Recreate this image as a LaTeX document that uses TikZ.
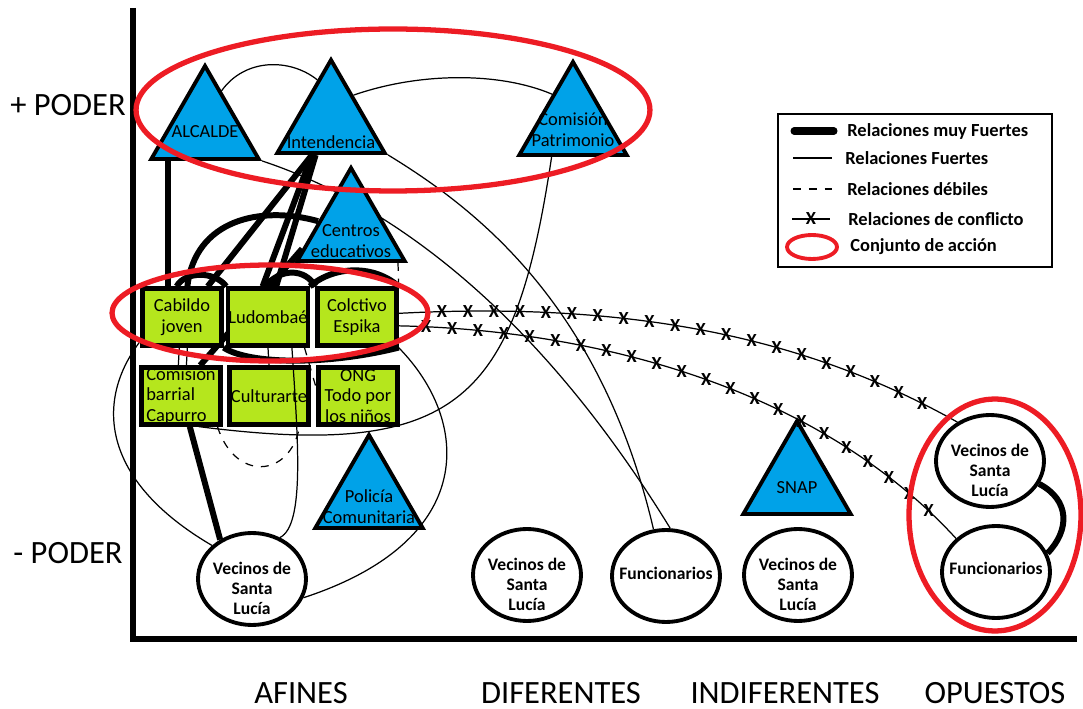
\documentclass[tikz,border=0pt]{standalone}
\usepackage{fontspec}
\setmainfont{Carlito}
\usepackage{tikz}
\usetikzlibrary{shapes.geometric,backgrounds,decorations.markings}
\definecolor{pblue}{HTML}{00A2E8}
\definecolor{pgreen}{HTML}{B5E61D}
\definecolor{pred}{HTML}{ED1C24}

\begin{document}
\begin{tikzpicture}[x=0.02cm,y=-0.02cm,
    actor/.style={regular polygon,regular polygon sides=3,draw,line width=2.2pt,fill=pblue,minimum size=2.48cm,inner sep=0pt},
    atext/.style={font=\fontsize{10.5}{12}\selectfont,align=center,inner sep=0pt},
    grupo/.style={rectangle,draw,line width=2.4pt,fill=pgreen,minimum width=1.58cm,minimum height=1.14cm,inner sep=0pt,align=center,font=\fontsize{10.5}{11.6}\selectfont},
    gente/.style={ellipse,draw,line width=2.2pt,fill=white,minimum width=2.16cm,minimum height=1.84cm,inner sep=0pt},
    gtext/.style={font=\bfseries\fontsize{10}{11.4}\selectfont,align=center,inner sep=0pt},
    eje/.style={font=\fontsize{18.5}{20}\selectfont,inner sep=0pt},
    muyfuerte/.style={line width=3.4pt},
    fuerte/.style={line width=0.7pt},
    debil/.style={line width=0.7pt,dash pattern=on 4.5pt off 4.5pt},
    xmark/.style={font=\bfseries\fontsize{10.5}{10.5}\selectfont,inner sep=0pt},
    conflicto/.style={line width=0.7pt,postaction={decorate},decoration={markings,mark=between positions #1 and 0.97 step 0.52cm with {\node[xmark]{X};}}},
    conjunto/.style={draw=pred,line width=3pt},
    leyenda/.style={anchor=west,inner sep=0pt,font=\bfseries\fontsize{10.5}{12}\selectfont}]
  \useasboundingbox (0,0) rectangle (1083,709);

  \node[actor,label={[atext,yshift=-0.08cm]center:ALCALDE}] (alcalde) at (205,128) {};
  \node[actor,label={[atext,yshift=-0.4cm]center:Intendencia}] (intend) at (331,122) {};
  \node[actor,label={[atext,yshift=-0.12cm]center:Comisión\\Patrimonio}] (patrim) at (573,124) {};
  \node[actor,label={[atext,yshift=-0.22cm]center:Centros\\educativos}] (centros) at (351,230) {};
  \node[actor,label={[atext,yshift=-0.2cm]center:Policía\\Comunitaria}] (policia) at (369,497) {};
  \node[actor,label={[atext,yshift=-0.1cm]center:SNAP}] (snap) at (797,483) {};

  \node[grupo] (cabildo) at (182,317) {Cabildo\\joven};
  \node[grupo] (ludo) at (268,317) {Ludombaé};
  \node[grupo] (espika) at (357,317) {Colctivo\\Espika};
  \node[grupo,align=left] (capurro) at (181,396) {Comision\\barrial\\Capurro};
  \node[grupo] (cultu) at (269,396) {Culturarte};
  \node[grupo] (ong) at (358,396) {ONG\\Todo por\\los niños};

  \node[gente,label={[gtext,yshift=-0.19cm]center:Vecinos de\\Santa\\Lucía}] (vecA) at (252,579) {};
  \node[gente,label={[gtext,yshift=-0.19cm]center:Vecinos de\\Santa\\Lucía}] (vecB) at (527,575) {};
  \node[gente,label={[gtext,yshift=0.06cm]center:Funcionarios}] (funB) at (666,576) {};
  \node[gente,label={[gtext,yshift=-0.19cm]center:Vecinos de\\Santa\\Lucía}] (vecC) at (798,575) {};
  \node[gente,label={[gtext,yshift=-0.19cm]center:Vecinos de\\Santa\\Lucía}] (vecD) at (990,461) {};
  \node[gente,label={[gtext,yshift=0.08cm]center:Funcionarios}] (funD) at (996,572) {};

  \node[eje] (masp) at (68,105) {+ PODER};
  \node[eje] (menosp) at (68,553) {- PODER};
  \node[eje] (afines) at (301,693) {AFINES};
  \node[eje] (difer) at (561,693) {DIFERENTES};
  \node[eje] (indif) at (785,693) {INDIFERENTES};
  \node[eje] (opues) at (995,693) {OPUESTOS};

  \coordinate (ytop) at (133,8);
  \coordinate (orig) at (133,639);
  \coordinate (xfin) at (1077,639);
  \draw[line width=3.2pt] (ytop) -- (orig) -- (xfin);

  \begin{scope}[on background layer]
    \draw[muyfuerte] (alcalde.-138) -- (alcalde.-138 |- cabildo.north);
    \draw[muyfuerte] (intend.-120) -- (cabildo.50);
    \draw[muyfuerte] (intend.-120) -- (ludo.100);
    \draw[muyfuerte] (intend.-115) -- (ludo.75);
    \draw[muyfuerte] (cabildo.80) .. controls (195,220) and (260,205) .. (centros.165);
    \draw[muyfuerte] (centros.-159) -- (capurro.58);
    \draw[muyfuerte] (cabildo.100) .. controls (185,271) and (215,271) .. (ludo.north west);
    \draw[muyfuerte] (ludo.95) .. controls (280,268) and (305,268) .. (espika.north west);
    \draw[muyfuerte] (ludo.north east) .. controls (335,265) and (375,265) .. (espika.north east);
    \draw[muyfuerte] (cabildo.south east) .. controls (250,365) and (330,365) .. (espika.south east);
    \draw[muyfuerte] (capurro.-74) -- (vecA.129);
    \draw[muyfuerte] (vecD.-25) .. controls (1070,500) and (1070,530) .. (funD.20);

    \draw[fuerte] (alcalde.66) .. controls (245,58) and (290,58) .. (intend.108);
    \draw[fuerte] (intend.-30) .. controls (470,205) and (600,300) .. (funB.105);
    \draw[fuerte] (alcalde.-30) .. controls (380,200) and (530,300) .. (funB.85);
    \draw[fuerte] (intend.50) .. controls (420,72) and (500,72) .. (patrim.125);
    \draw[fuerte] (patrim.-123) .. controls (515,400) and (460,460) .. (capurro.-60);
    \draw[fuerte] (espika.south east) .. controls (470,420) and (480,540) .. (vecA.-20);
    \draw[fuerte] (cabildo.-150) .. controls (95,400) and (100,480) .. (vecA.140);
    \draw[fuerte] (cabildo.-95) -- (capurro.95);
    \draw[fuerte] (cabildo.-80) -- (capurro.80);
    \draw[fuerte] (ludo.south) -- (cultu.north);

    \draw[debil] (capurro.-40) .. controls (235,482) and (290,478) .. (cultu.-45);
    \draw[debil] (centros.-35) -- (espika.north east);
    \draw[debil] (ludo.-40) -- (ong.170);
  \end{scope}

  \draw[fuerte] (ludo.-52) .. controls (298,440) and (305,525) .. (vecA.56);

  \draw[conflicto=0.075] (espika.5) .. controls (650,300) and (820,345) .. (vecD.130);
  \draw[conflicto=0.045] (espika.-12) .. controls (600,330) and (820,390) .. (funD.140);

  \draw[line width=1pt] (778,114) rectangle (1052,267);
  \node[leyenda] (l1) at (847,131) {Relaciones muy Fuertes};
  \node[leyenda] (l2) at (845,158) {Relaciones Fuertes};
  \node[leyenda] (l3) at (847,189) {Relaciones débiles};
  \node[leyenda] (l4) at (848,219) {Relaciones de conflicto};
  \node[leyenda] (l5) at (850,247) {Conjunto de acción};
  \draw[line width=4pt,line cap=round] ([xshift=-1.06cm]l1.west) -- ([xshift=-0.26cm]l1.west);
  \draw[fuerte] ([xshift=-1.04cm]l2.west) -- ([xshift=-0.26cm]l2.west);
  \draw[debil] ([xshift=-1.08cm]l3.west) -- ([xshift=-0.3cm]l3.west);
  \draw[fuerte] ([xshift=-1.12cm]l4.west) -- ([xshift=-0.36cm]l4.west) node[xmark,midway] {X};
  \draw[conjunto,line width=2.2pt] ([xshift=-0.76cm]l5.west) ellipse [x radius=0.5cm,y radius=0.24cm];

  \draw[conjunto] (393,110) ellipse [x radius=5.14cm,y radius=1.62cm];
  \draw[conjunto] (270,313) ellipse [x radius=3.16cm,y radius=0.96cm];
  \draw[conjunto] (995,515) ellipse [x radius=1.72cm,y radius=2.32cm];
\end{tikzpicture}
\end{document}
